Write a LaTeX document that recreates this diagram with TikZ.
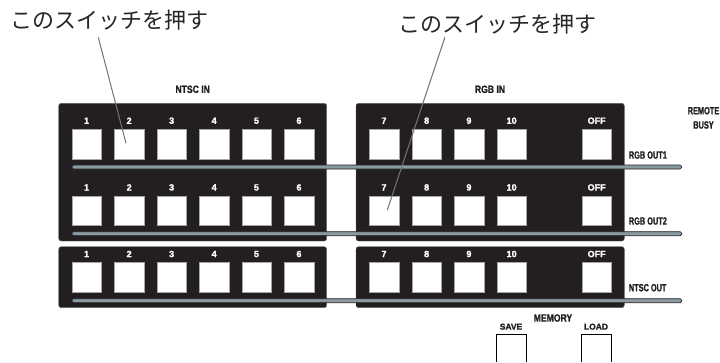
\documentclass[tikz,border=0pt]{standalone}
\usepackage{fontspec}
\setmainfont{Liberation Sans}
\newfontfamily\cjk{Noto Sans CJK JP}
\newfontfamily\condfont[FakeStretch=.82,FakeBold=1.2]{Liberation Sans Bold}
\newfontfamily\sidefont[FakeStretch=.7,FakeBold=1.2]{Liberation Sans Bold}
\newfontfamily\numfont[FakeBold=1.5]{Liberation Sans Bold}
\usepackage{tikz}
\usetikzlibrary{calc}
\definecolor{panelblack}{HTML}{231F20}
\definecolor{barblue}{HTML}{8A9AA3}
\tikzset{
  panel/.style={draw=panelblack!70,fill=panelblack,rounded corners=2.5pt,line width=.4pt},
  btn/.style={fill=white,draw=black!35,line width=.4pt,minimum width=29.5pt,minimum height=29.5pt,inner sep=0pt,anchor=north west},
  numlabel/.style={text=white,font=\numfont\fontsize{9}{9}\selectfont,inner sep=0pt},
  toplabel/.style={text=panelblack,font=\condfont\fontsize{10.5}{10.5}\selectfont,inner sep=0pt},
  sidelabel/.style={text=panelblack,font=\sidefont\fontsize{10.5}{10.5}\selectfont,inner sep=0pt},
  memlabel/.style={text=panelblack,font=\numfont\fontsize{8.5}{8.5}\selectfont,inner sep=0pt},
  bar/.style={draw=panelblack,line width=.6pt,fill=barblue,rounded corners=1.5pt},
  leader/.style={draw=black!55,line width=1pt},
  jptext/.style={text=black!85,font=\cjk\fontsize{22}{22}\selectfont,inner sep=0pt}
}
\begin{document}
\begin{tikzpicture}[x=1pt,y=-1pt]
  \useasboundingbox (0,0) rectangle (720,362);
  % panels
  \draw[panel] (58.7,103.3) rectangle (326.7,241);
  \draw[panel] (356,103.3) rectangle (624.3,241);
  \draw[panel] (58.7,246.7) rectangle (326.7,307.7);
  \draw[panel] (356,246.7) rectangle (624.3,307.7);
  % buttons and numbers
  \foreach \r/\yt in {a/129,b/195.7,c/262.3}{
    \foreach \n/\xl in {1/71.7,2/114.2,3/156.7,4/199.2,5/241.5,6/284,7/369,8/411.7,9/454,10/496.7}{
      \node[btn] (btn\r\n) at (\xl,\yt) {};
      \node[numlabel] (num\r\n) at ($(btn\r\n.north)+(0,-8.3)$) {\n};
    }
    \node[btn] (btn\r off) at (581.7,\yt) {};
    \node[numlabel] (num\r off) at ($(btn\r off.north)+(0,-8.3)$) {OFF};
  }
  % long bars
  \draw[bar] (72,165) rectangle (681.7,169);
  \draw[bar] (72,231.7) rectangle (681.7,235.7);
  \draw[bar] (72,298.7) rectangle (681.7,302.7);
  % labels
  \node[toplabel] (ntscin) at (192.7,89.3) {NTSC IN};
  \node[toplabel] (rgbin) at (490,89.3) {RGB IN};
  \node[sidelabel] (remote) at (703.5,110.7) {REMOTE};
  \node[sidelabel] (busy) at (703.5,125) {BUSY};
  \node[sidelabel,anchor=west] (rgbout1) at (628.7,155) {RGB OUT1};
  \node[sidelabel,anchor=west] (rgbout2) at (628.7,221) {RGB OUT2};
  \node[sidelabel,anchor=west] (ntscout) at (628.7,287.7) {NTSC OUT};
  \node[toplabel] (memory) at (553,318) {MEMORY};
  \node[memlabel] (save) at (511,326.7) {SAVE};
  \node[memlabel] (load) at (596,326.7) {LOAD};
  % memory switches, cut off by the page
  \draw[line width=.6pt] (496,362) -- (496,334.7) -- (526.7,334.7) -- (526.7,362);
  \draw[line width=.6pt] (581,362) -- (581,334.7) -- (611.7,334.7) -- (611.7,362);
  % callouts
  \node[jptext,anchor=west] (pushleft) at (10,20) {このスイッチを押す};
  \node[jptext,anchor=west] (pushright) at (398,24) {このスイッチを押す};
  \coordinate (startleft) at (98.3,37.3);
  \coordinate (startright) at (445,37);
  \coordinate (endleft) at (126,143.3);
  \coordinate (endright) at (387.3,210);
  \draw[leader] (startleft) -- (endleft);
  \draw[leader] (startright) -- (endright);
\end{tikzpicture}
\end{document}
